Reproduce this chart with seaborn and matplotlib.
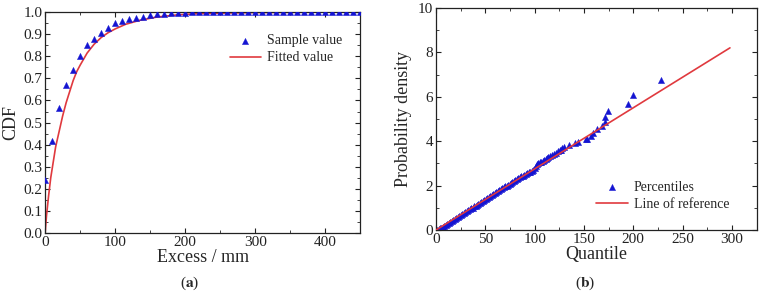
import numpy as np
import pandas as pd
import matplotlib
matplotlib.use("Agg")
import matplotlib.pyplot as plt
from matplotlib.ticker import MultipleLocator
import seaborn as sns

# (a) CDF of excess
excess = [0, 10, 20, 30, 40, 50, 60, 70, 80, 90, 100, 110, 120, 130, 140, 150, 160, 170, 180, 190,
          200, 210, 220, 230, 240, 250, 260, 270, 280, 290, 300, 310, 320, 330, 340, 350, 360, 370,
          380, 390, 400, 410, 420, 430, 440, 450]
cdf_sample = [0.240, 0.418, 0.565, 0.668, 0.740, 0.800, 0.849, 0.880, 0.905, 0.930, 0.950, 0.960,
              0.970, 0.975, 0.980, 0.985, 0.990, 0.992, 0.995, 0.997, 0.998, 0.999, 0.999, 1.0,
              1.0, 1.0, 1.0, 1.0, 1.0, 1.0, 1.0, 1.0, 1.0, 1.0, 1.0, 1.0, 1.0, 1.0, 1.0, 1.0,
              1.0, 1.0, 1.0, 1.0, 1.0, 1.0]
fit_x = [0, 2, 5, 8, 11, 15, 20, 25, 30, 35, 40, 45, 50, 60, 70, 80, 90, 100, 115, 135, 160,
         190, 220, 260, 300, 350, 400, 450]
fit_cdf = [0.0, 0.08, 0.17, 0.25, 0.31, 0.39, 0.46, 0.53, 0.59, 0.64, 0.69, 0.73, 0.76, 0.815,
           0.855, 0.885, 0.907, 0.924, 0.945, 0.963, 0.978, 0.988, 0.993, 0.996, 0.998, 0.999,
           1.0, 1.0]

# (b) Q-Q plot
quantile = [1, 2.5, 4, 5.5, 7, 8.5, 10, 11.5, 13, 14.5, 16, 17.5, 19, 20.5, 22, 23.5, 25, 26.5,
            28, 29.5, 31, 32.5, 34, 35.5, 37, 38.5, 40, 41.5, 43, 44.5, 46, 47.5, 49, 50.5, 52,
            53.5, 55, 56.5, 58, 59.5, 61, 62.5, 64, 65.5, 67, 68.5, 70, 71.5, 73, 74.5, 76, 77.5,
            79, 80.5, 82, 83.5, 85, 86.5, 88, 89.5, 91, 92.5, 94, 95.5, 97, 98.5,
            100, 101, 102, 103.5, 105, 106.5, 108, 109.5, 111, 112.5, 114, 116, 118, 120, 122,
            124, 126, 127, 128, 129.6, 134.7, 140.8, 143.8,
            152, 153, 157.6, 159, 163.6, 168.4, 171, 171.7, 174, 195, 200, 228]
density = [0.0, 0.03, 0.07, 0.11, 0.15, 0.19, 0.24, 0.28, 0.32, 0.37, 0.42, 0.46, 0.50, 0.55,
           0.59, 0.63, 0.67, 0.72, 0.76, 0.80, 0.85, 0.89, 0.93, 0.97, 1.01, 1.06, 1.10, 1.14,
           1.18, 1.22, 1.27, 1.31, 1.35, 1.40, 1.44, 1.48, 1.52, 1.57, 1.62, 1.66, 1.70, 1.75,
           1.79, 1.83, 1.88, 1.93, 1.97, 2.00, 2.04, 2.08, 2.12, 2.16, 2.21, 2.25, 2.29, 2.33,
           2.37, 2.41, 2.45, 2.49, 2.53, 2.56, 2.60, 2.63, 2.67, 2.72,
           2.80, 2.90, 2.96, 3.00, 3.04, 3.08, 3.12, 3.16, 3.20, 3.24, 3.27, 3.32, 3.38, 3.43,
           3.48, 3.55, 3.60, 3.60, 3.68, 3.72, 3.82, 3.92, 3.98,
           4.08, 4.10, 4.25, 4.37, 4.56, 4.69, 4.86, 5.08, 5.34, 5.66, 6.08, 6.74]
ref_x = [0, 298]
ref_y = [0, 8.2]

sns.set_style("ticks")
plt.rcParams["font.family"] = ["Liberation Serif", "DejaVu Serif"]
plt.rcParams["mathtext.fontset"] = "stix"

blue = "#1414d2"
red = "#e0393e"

fig = plt.figure(figsize=(7.65, 3.03), dpi=100)
ax1 = fig.add_axes([0.059, 0.231, 0.412, 0.729])
ax2 = fig.add_axes([0.570, 0.241, 0.419, 0.733])

df_a = pd.DataFrame({"x": excess, "y": cdf_sample})
df_fit = pd.DataFrame({"x": fit_x, "y": fit_cdf})
sns.lineplot(data=df_fit, x="x", y="y", ax=ax1, color=red, lw=1.2, label="Fitted value", zorder=2)
sns.scatterplot(data=df_a, x="x", y="y", ax=ax1, color=blue, marker="^", s=20,
                edgecolor=blue, linewidth=0.3, label="Sample value", zorder=3)
ax1.set_xlim(0, 450)
ax1.set_ylim(0, 1.0)
ax1.xaxis.set_major_locator(MultipleLocator(100))
ax1.xaxis.set_minor_locator(MultipleLocator(50))
ax1.yaxis.set_major_locator(MultipleLocator(0.1))
ax1.yaxis.set_minor_locator(MultipleLocator(0.05))
ax1.set_yticks(ax1.get_yticks())
ax1.set_yticklabels([f"{v:.1f}" for v in ax1.get_yticks()])
ax1.set_ylim(0, 1.0)
ax1.set_xlabel("Excess / mm", fontsize=13, labelpad=0)
ax1.set_ylabel("CDF", fontsize=13, labelpad=3)
h, l = ax1.get_legend_handles_labels()
ax1.legend(h[::-1], l[::-1], loc="upper left", bbox_to_anchor=(0.585, 0.90), frameon=False,
           borderpad=0, borderaxespad=0, fontsize=10, handlelength=2.3, handletextpad=0.4,
           labelspacing=0.3)

df_b = pd.DataFrame({"x": quantile, "y": density})
df_ref = pd.DataFrame({"x": ref_x, "y": ref_y})
sns.lineplot(data=df_ref, x="x", y="y", ax=ax2, color=red, lw=1.2, label="Line of reference", zorder=3)
sns.scatterplot(data=df_b, x="x", y="y", ax=ax2, color=blue, marker="^", s=20,
                edgecolor=blue, linewidth=0.3, label="Percentiles", zorder=2)
ax2.set_xlim(0, 325)
ax2.set_ylim(0, 10)
ax2.xaxis.set_major_locator(MultipleLocator(50))
ax2.xaxis.set_minor_locator(MultipleLocator(25))
ax2.yaxis.set_major_locator(MultipleLocator(2))
ax2.yaxis.set_minor_locator(MultipleLocator(1))
ax2.set_xlabel("Quantile", fontsize=13, labelpad=0)
ax2.set_ylabel("Probability density", fontsize=13, labelpad=4)
h, l = ax2.get_legend_handles_labels()
ax2.legend(h[::-1], l[::-1], loc="upper left", bbox_to_anchor=(0.50, 0.22), frameon=False,
           borderpad=0, borderaxespad=0, fontsize=10, handlelength=2.3, handletextpad=0.4,
           labelspacing=0.3)

for ax in (ax1, ax2):
    ax.tick_params(which="both", direction="in", top=True, right=True, labelsize=11,
                   pad=2, colors="#222222")
    ax.tick_params(which="major", length=3.5, width=0.8)
    ax.tick_params(which="minor", length=2, width=0.6)
    for sp in ax.spines.values():
        sp.set_linewidth(0.9)
        sp.set_color("#222222")

fig.text(0.248, 0.066, r"($\mathbf{a}$)", ha="center", va="center", fontsize=11)
fig.text(0.765, 0.066, r"($\mathbf{b}$)", ha="center", va="center", fontsize=11)

fig.savefig("out.png", dpi=100)
